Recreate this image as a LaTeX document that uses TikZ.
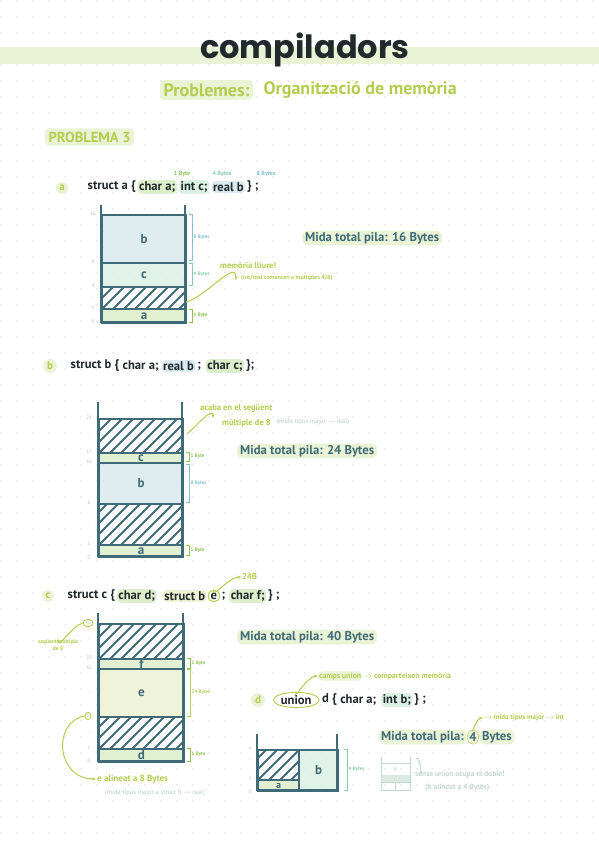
\documentclass[tikz,border=0pt]{standalone}
\usepackage{fontspec}
\setmainfont{PT Sans}
\newfontfamily\titlefont{Poppins}
\usetikzlibrary{arrows.meta, positioning, shapes.geometric}

\definecolor{ink}{HTML}{22292C}
\definecolor{tealc}{HTML}{3F6B78}
\definecolor{lime}{HTML}{B3CD4F}
\definecolor{limelt}{HTML}{EBF3D6}
\definecolor{bluefill}{HTML}{DAEAEF}
\definecolor{mintfill}{HTML}{DCF1E5}
\definecolor{greenfill}{HTML}{DDEECB}
\definecolor{yelfill}{HTML}{EDF2D3}
\definecolor{bluebr}{HTML}{86C1D3}
\definecolor{mintbr}{HTML}{86CFAA}
\definecolor{greenbr}{HTML}{8DC455}
\definecolor{limebr}{HTML}{B2CF5E}
\definecolor{dotc}{HTML}{BDBDBD}
\definecolor{fadec}{HTML}{C3D8CF}
\definecolor{tickc}{HTML}{B5C6C2}
\definecolor{grayc}{HTML}{B9C9C6}

\newcommand\bytebrace[6]{%
  \draw[#5, line width=0.7pt] (#2,#3) -- ++(3,0) -- (#2+3,#4) -- ++(-3,0);
  \node[bnote, text=#5, anchor=west] (#1) at (#2+4,{(#3+#4)/2}) {#6};}

\begin{document}
\begin{tikzpicture}[
    x=1pt, y=-1pt,
    >={Stealth[length=4pt]},
    wall/.style={draw=tealc, line width=2.4pt},
    cell/.style={
        draw=tealc,
        line width=2pt,
        anchor=north west,
        inner sep=0pt,
        fill opacity=0.85,
        text opacity=1,
        text=tealc,
        font=\fontsize{13}{14}\selectfont\bfseries
    },
    hatch/.style={path picture={
        \foreach \k in {-66,-55,...,99}
            \draw[tealc, line width=2pt] ([xshift=\k pt]path picture bounding box.south west) -- ++(70,-70);
    }},
    tick/.style={font=\fontsize{5}{6}\selectfont, text=tickc, inner sep=0.5pt},
    bnote/.style={font=\fontsize{5}{6}\selectfont\bfseries, inner sep=0.5pt},
    note/.style={font=\fontsize{8.5}{10}\selectfont\bfseries, text=lime, inner sep=1pt},
    small/.style={font=\fontsize{6.5}{7.5}\selectfont, inner sep=1pt},
    code/.style={font=\fontsize{12.6}{14}\selectfont\bfseries, text=ink, inner xsep=1.5pt, inner ysep=1.5pt},
    hl/.style={fill=#1, rounded corners=4pt},
    mida/.style={
        font=\fontsize{12.7}{14}\selectfont\bfseries,
        text=tealc,
        fill=limelt,
        rounded corners=6pt,
        inner xsep=3pt,
        inner ysep=1.5pt
    },
    bubble/.style={circle, fill=limelt, text=lime, font=\fontsize{11}{12}\selectfont\bfseries, inner sep=1.5pt},
    ring/.style={draw=lime, line width=0.9pt, ellipse, inner sep=0.8pt},
    arr/.style={->, draw=lime, line width=1pt},
    faded/.style={draw=fadec, line width=1pt}
]

\useasboundingbox[fill=white] (0,0) rectangle (599,848);

\foreach \i in {0,...,37}
    \foreach \j in {0,...,52}
        \fill[dotc] (1+16*\i,1+16*\j) circle (0.6);

% header
\fill[limelt] (0,47) rectangle (599,64);
\node[font=\titlefont\fontsize{32}{34}\selectfont\bfseries, text=ink] (title) at (305,50) {compiladors};
\node[font=\fontsize{18}{20}\selectfont\bfseries, text=lime, hl=limelt, anchor=west] (sub1) at (160,90) {Problemes:};
\node[font=\fontsize{18}{20}\selectfont\bfseries, text=lime, right=7pt of sub1] (sub2) {Organització de memòria};
\node[font=\fontsize{14.5}{16}\selectfont\bfseries, text=lime, hl=limelt, anchor=west] (prob) at (45,137) {PROBLEMA 3};

% a
\node[bubble] (pa) at (62,188) {a};
\node[code, anchor=west] (sa0) at (86,187) {struct a \{};
\node[code, hl=greenfill, right=0pt of sa0] (sa1) {char a;};
\node[code, hl=mintfill, right=2pt of sa1] (sa2) {int c;};
\node[code, hl=bluefill, right=2pt of sa2] (sa3) {real b};
\node[code, right=0pt of sa3] (sa4) {\} ;};
\node[bnote, text=greenbr, font=\fontsize{6}{7}\selectfont\bfseries] (sz1) at (182,174) {1 Byte};
\node[bnote, text=mintbr, font=\fontsize{6}{7}\selectfont\bfseries] (sz2) at (222,174) {4 Bytes};
\node[bnote, text=bluebr, font=\fontsize{6}{7}\selectfont\bfseries] (sz3) at (266,174) {8 Bytes};

\node[cell, fill=bluefill, minimum width=84, minimum height=48] (ab) at (101,214) {b};
\node[cell, fill=mintfill, minimum width=84, minimum height=24] (ac) at (101,262) {c};
\node[cell, hatch, minimum width=84, minimum height=22] (ah) at (101,286) {};
\node[cell, fill=greenfill, minimum width=84, minimum height=14] (aa) at (101,308) {a};
\draw[wall] (101,205) -- (101,322) -- (185,322) -- (185,205);
\foreach \yy/\lab in {214/16, 238/., 262/8, 274/., 286/4, 297/., 308/1, 322/0}
    \node[tick] (ta\yy) at (93,\yy) {\lab};
\bytebrace{ba1}{189}{214}{260}{bluebr}{8 Bytes}
\bytebrace{ba2}{189}{263}{285}{mintbr}{4 Bytes}
\bytebrace{ba3}{189}{309}{322}{greenbr}{1 Byte}

\node[note, anchor=west] (ml) at (219,265) {memòria lliure!};
\node[small, font=\fontsize{6}{7}\selectfont\bfseries, text=lime, anchor=west] (mln) at (240,278) {(int/real comencen a múltiples 4/8)};
\coordinate (ha) at (186,302);
\draw[arr] (ha) to[out=15,in=90] ([xshift=-4pt,yshift=-2pt]mln.west);
\node[mida, anchor=west] (mida1) at (302,238) {Mida total pila: 16 Bytes};

% b
\node[bubble] (pb) at (50,366) {b};
\node[code, anchor=west] (sb0) at (69,366) {struct b \{};
\node[code, right=0pt of sb0] (sb1) {char a;};
\node[code, hl=bluefill, right=1pt of sb1] (sb2) {real b};
\node[code, right=0pt of sb2] (sb3) {;};
\node[code, hl=greenfill, right=3pt of sb3] (sb4) {char c;};
\node[code, right=0pt of sb4] (sb5) {\};};

\node[cell, hatch, minimum width=84, minimum height=34] (bh1) at (98,418) {};
\node[cell, fill=greenfill, minimum width=84, minimum height=10] (bc) at (98,452) {c};
\node[cell, fill=bluefill, minimum width=84, minimum height=41] (bb) at (98,462) {b};
\node[cell, hatch, minimum width=84, minimum height=41] (bh2) at (98,503) {};
\node[cell, fill=greenfill, minimum width=84, minimum height=12] (ba) at (98,544) {a};
\draw[wall] (98,402) -- (98,556) -- (182,556) -- (182,402);
\foreach \yy/\lab in {418/24, 434/., 452/17, 462/16, 503/8, 523/., 544/1, 558/0}
    \node[tick] (tb\yy) at (89,\yy) {\lab};
\bytebrace{bb1}{186}{452}{461}{greenbr}{1 Byte}
\bytebrace{bb2}{186}{464}{502}{bluebr}{8 Bytes}
\bytebrace{bb3}{186}{545}{555}{greenbr}{1 Byte}

\node[note, anchor=west] (acb) at (199,408) {acaba en el següent};
\node[note, anchor=west] (mult) at (221,423) {múltiple de 8};
\node[small, text=grayc, anchor=west] (mtr) at (276,422) {(mida tipus major $\to$ real)};
\coordinate (hb) at (187,434);
\draw[arr] (hb) to[out=40,in=90] ([xshift=-8pt,yshift=5pt]mult.west);
\node[mida, anchor=west] (mida2) at (237,451) {Mida total pila: 24 Bytes};

% c
\node[bubble] (pc) at (48,596) {c};
\node[code, anchor=west] (sc0) at (66,596) {struct c \{};
\node[code, hl=greenfill, right=0pt of sc0] (sc1) {char d;};
\node[code, hl=yelfill, right=6pt of sc1] (sc2) {struct b};
\node[code, ring, right=1pt of sc2] (sc3) {e};
\node[code, right=0pt of sc3] (sc4) {;};
\node[code, hl=greenfill, right=2pt of sc4] (sc5) {char f;};
\node[code, right=0pt of sc5] (sc6) {\} ;};
\node[note, anchor=west] (s24) at (241,577) {24B};
\draw[arr] (sc3.north) to[out=-110,in=180] (s24.west);

\node[cell, hatch, minimum width=85, minimum height=35] (ch1) at (98,623) {};
\node[cell, fill=greenfill, minimum width=85, minimum height=10] (cf) at (98,658) {f};
\node[cell, fill=yelfill, minimum width=85, minimum height=48] (ce) at (98,668) {e};
\node[cell, hatch, minimum width=85, minimum height=32] (ch2) at (98,716) {};
\node[cell, fill=greenfill, minimum width=85, minimum height=13] (cd) at (98,748) {d};
\draw[wall] (98,613) -- (98,761) -- (183,761) -- (183,613);
\foreach \yy/\lab in {640/., 658/33, 668/32, 692/., 732/., 748/1, 761/0}
    \node[tick] (tc\yy) at (89,\yy) {\lab};
\node[tick, ring] (c40) at (88,623) {40};
\node[tick, ring] (c8) at (88,716) {8};
\bytebrace{bc1}{187}{658}{668}{greenbr}{1 Byte}
\bytebrace{bc2}{187}{669}{716}{limebr}{24 Bytes}
\bytebrace{bc3}{187}{748}{761}{greenbr}{1 Byte}

\node[small, text=lime, font=\fontsize{5.5}{6.5}\selectfont\bfseries, align=center] (sm) at (58,645) {següent múltiple\\de 8};
\draw[arr] (c40.west) to[out=195,in=-90] (sm.north);
\node[note, font=\fontsize{9}{10}\selectfont\bfseries, anchor=west] (eal) at (96,779) {e alineat a 8 Bytes};
\node[small, text=grayc, anchor=west] (ealn) at (104,793) {(mida tipus major a struct b $\to$ real)};
\draw[arr] (c8.west) .. controls (52,722) and (56,779) .. (eal.west);
\node[mida, anchor=west] (mida3) at (237,637) {Mida total pila: 40 Bytes};

% d
\node[bubble] (pd) at (258,700) {d};
\node[code, ring, anchor=west] (su0) at (273,700) {union};
\node[code, right=1pt of su0] (su1) {d \{};
\node[code, right=0pt of su1] (su2) {char a;};
\node[code, hl=mintfill, right=3pt of su2] (su3) {int b;};
\node[code, right=0pt of su3] (su4) {\} ;};
\node[note, hl=limelt, font=\fontsize{7.8}{9}\selectfont\bfseries, anchor=west] (cu1) at (318,676) {camps union};
\node[note, font=\fontsize{7.8}{9}\selectfont\bfseries, right=0pt of cu1] (cu2) {$\to$ comparteixen memòria};
\draw[arr] (su0.north) to[out=-110,in=180] (cu1.west);

\node[cell, hatch, minimum width=41, minimum height=30] (dh) at (257,749) {};
\node[cell, fill=greenfill, minimum width=41, minimum height=11, font=\fontsize{10}{11}\selectfont\bfseries] (da) at (257,779) {a};
\node[cell, fill=mintfill, minimum width=39, minimum height=41] (db) at (298,749) {b};
\draw[wall] (257,734) -- (257,790) -- (337,790) -- (337,734);
\foreach \yy/\lab in {749/4, 760/., 770/., 779/1, 792/0}
    \node[tick] (td\yy) at (250,\yy) {\lab};
\bytebrace{bd1}{344}{749}{790}{mintbr}{4 Bytes}

\node[mida, anchor=west] (mida4a) at (378,737) {Mida total pila:};
\node[mida, right=0pt of mida4a, draw=lime, ellipse, inner xsep=0.5pt, inner ysep=0.5pt] (mida4b) {4};
\node[mida, right=0pt of mida4b] (mida4c) {Bytes};
\node[note, font=\fontsize{7}{8}\selectfont\bfseries, anchor=west] (tipus) at (483,718) {$\to$ mida tipus major $\to$ int};
\draw[arr] (mida4b.north) to[out=-110,in=180] (tipus.west);

% faded sketch
\draw[faded] (381,757) -- (381,790) -- (410,790) -- (410,757);
\draw[faded] (381,763) -- (410,763) (381,775) -- (410,775) (381,782) -- (410,782) (395,782) -- (395,790);
\fill[fadec!60] (381,775) rectangle (410,782);
\node[small, text=fadec] (fb) at (395,769) {b};
\node[note, text=fadec, font=\fontsize{7.5}{9}\selectfont\bfseries, anchor=west] (sense) at (414,775) {sense union ocupa el doble!};
\node[note, text=fadec, font=\fontsize{7.5}{9}\selectfont\bfseries, anchor=west] (balin) at (424,788) {(b alineat a 4 Bytes)};
\coordinate (hk) at (416,758);
\draw[faded, ->] (hk) to[out=0,in=-90] ([xshift=7pt]sense.north west);

\end{tikzpicture}
\end{document}
